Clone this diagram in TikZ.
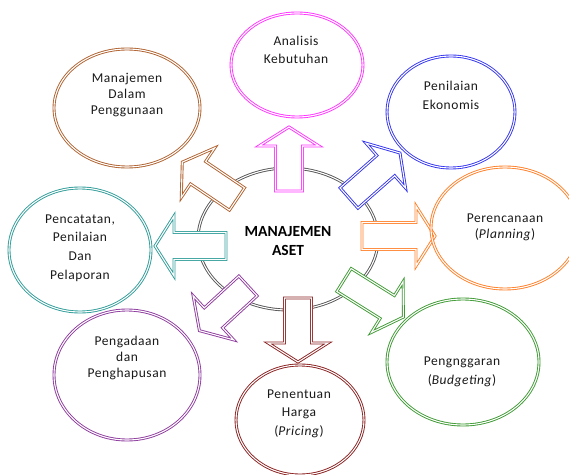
\documentclass[tikz,border=0pt]{standalone}
\usepackage{fontspec}
\setmainfont{Carlito}
\newfontfamily\lblfont{Carlito}[LetterSpace=4]
\usetikzlibrary{shapes.geometric}
\definecolor{cmag}{HTML}{FF33FF}
\definecolor{cblue}{HTML}{3333EE}
\definecolor{cbrown}{HTML}{B0612E}
\definecolor{cteal}{HTML}{2E9C98}
\definecolor{corange}{HTML}{FF7F27}
\definecolor{cgreen}{HTML}{3D9A32}
\definecolor{cdkred}{HTML}{8B2020}
\definecolor{cpurple}{HTML}{8E3B9E}
\definecolor{cgray}{HTML}{555555}
\begin{document}
\begin{tikzpicture}[x=1pt, y=1pt,
		dbl/.style={line width=0.9pt, double=white, double distance=1.1pt},
		oval/.style={ellipse, dbl, inner sep=0pt},
		lbl/.style={align=center, font=\lblfont\fontsize{13.5}{18}\selectfont, text=black!90}]
		\useasboundingbox (0,0) rectangle (569,474);
		\node[oval, draw=cgray, minimum width=180, minimum height=142] (aset) at (288,235) {};
		\node[font=\bfseries\fontsize{15.5}{19}\selectfont, align=center] (asettext) at (288,233) {MANAJEMEN\\ASET};
		\foreach \x/\y/\a/\l/\c in {289/283/90/64/cmag, 349/276/41.4/68/cblue, 362/238/0/73/corange,
				344/194/-32/70/cgreen, 298/176/-90/64/cdkred, 248/188/222.6/66/cpurple,
				226/228/180/71/cteal, 237/275/146/66/cbrown}
			\filldraw[dbl, draw=\c, fill=white, shift={(\x,\y)}, rotate=\a]
				(0,-13.5) -- (\l-19,-13.5) -- (\l-19,-30) -- (\l,0) -- (\l-19,30) -- (\l-19,13.5) -- (0,13.5) -- cycle;
		\node[oval, draw=cmag, minimum width=132, minimum height=104] (analisis) at (297,409) {};
		\node[oval, draw=cblue, minimum width=128, minimum height=112] (ekonomis) at (451,362) {};
		\node[oval, draw=corange, minimum width=148, minimum height=122] (planning) at (505,246) {};
		\node[oval, draw=cgreen, minimum width=152, minimum height=126] (budgeting) at (463,112) {};
		\node[oval, draw=cdkred, minimum width=128, minimum height=110] (pricing) at (300,54) {};
		\node[oval, draw=cpurple, minimum width=146, minimum height=130] (pengadaan) at (127,99) {};
		\node[oval, draw=cteal, minimum width=142, minimum height=124] (pencatatan) at (80,224) {};
		\node[oval, draw=cbrown, minimum width=146, minimum height=118] (penggunaan) at (127,366) {};
		\node[lbl] (analisistext) at (296,424) {Analisis\\Kebutuhan};
		\node[lbl, font=\lblfont\fontsize{13.5}{19}\selectfont] (ekonomistext) at (451,378.5) {Penilaian\\Ekonomis};
		\node[lbl, font=\lblfont\fontsize{13.5}{16}\selectfont] (planningtext) at (505,247) {Perencanaan\\(\textit{Planning})};
		\node[lbl, font=\lblfont\fontsize{13.5}{19}\selectfont] (budgetingtext) at (462,102.5) {Pengnggaran\\(\textit{Budgeting})};
		\node[lbl, font=\lblfont\fontsize{13.5}{18.5}\selectfont] (pricingtext) at (299,60.5) {Penentuan\\Harga\\(\textit{Pricing})};
		\node[lbl, font=\lblfont\fontsize{13.5}{16}\selectfont] (pengadaantext) at (127,116) {Pengadaan\\dan\\Penghapusan};
		\node[lbl, font=\lblfont\fontsize{13.5}{18.7}\selectfont] (pencatatantext) at (80,226) {Pencatatan,\\Penilaian\\Dan\\Pelaporan};
		\node[lbl, font=\lblfont\fontsize{13.5}{16}\selectfont] (penggunaantext) at (127,379) {Manajemen\\Dalam\\Penggunaan};
\end{tikzpicture}
\end{document}
